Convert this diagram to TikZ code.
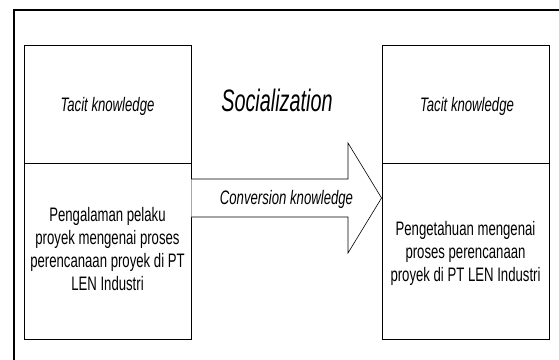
\documentclass[tikz,border=0pt]{standalone}
\usepackage{fontspec}
\setmainfont{Liberation Sans}[FakeStretch=0.675]
\newfontfamily\titlefont{Liberation Sans}[FakeStretch=0.64]
\begin{document}
\begin{tikzpicture}[x=1pt,y=-1pt,
  frame/.style={draw=black,line width=1.2pt},
  part/.style={draw=black,line width=0.9pt,minimum width=167pt,inner sep=0pt},
  txt/.style={font=\fontsize{19.5}{23}\selectfont,align=center,inner sep=0pt},
  conv/.style={draw=black,line width=0.6pt,fill=white,line join=miter}]
\useasboundingbox (0,0) rectangle (559,359);
% outer frame (runs past the page on the right and at the bottom)
\draw[frame] (14,380) -- (14,10) -- (580,10);
% left column
\node[part,minimum height=118pt] (ltop) at (107.5,104) {};
\node[part,minimum height=176pt] (lbot) at (107.5,251) {};
% right column
\node[part,minimum height=118pt] (rtop) at (465.5,104) {};
\node[part,minimum height=176pt] (rbot) at (465.5,251) {};
% conversion arrow from the left column to the right column
\coordinate (s1) at (lbot.north east |- 0,179);
\coordinate (s2) at (lbot.north east |- 0,217);
\coordinate (tip) at (rbot.north west |- 0,198);
\draw[conv] (s1) -- (348,179) -- (348,143) -- (tip) -- (348,253) -- (348,217) -- (s2);
% labels
\node[txt,anchor=base] (tk1) at (107.5,111) {\itshape Tacit knowledge};
\node[txt,anchor=base] (tk2) at (467,111) {\itshape Tacit knowledge};
\node[font=\fontsize{31}{33}\selectfont\titlefont\itshape,inner sep=0pt,anchor=base] (soc) at (277,111) {Socialization};
\node[txt,anchor=base] (ck) at (286.5,204.5) {\itshape Conversion knowledge};
\node[txt] (lt) at (107.5,249.5) {Pengalaman pelaku\\proyek mengenai proses\\perencanaan proyek di PT\\LEN Industri};
\node[txt] (rt) at (465.5,253.5) {Pengetahuan mengenai\\proses perencanaan\\proyek di PT LEN Industri};
\end{tikzpicture}
\end{document}
